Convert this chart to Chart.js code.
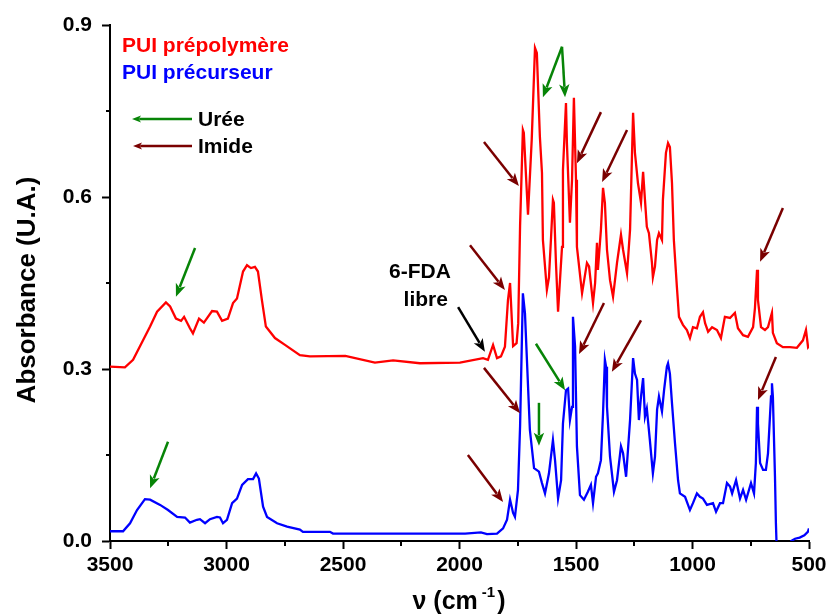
<!DOCTYPE html>
<html>
<head>
<meta charset="utf-8">
<script src="https://cdn.jsdelivr.net/npm/chart.js@4.4.0/dist/chart.umd.min.js"></script>
<style>
  body { margin: 0; background: #fff; }
  #wrap { width: 826px; height: 615px; }
</style>
</head>
<body>
<div id="wrap"><canvas id="myChart" width="826" height="615"></canvas></div>
<script>
// wavenumbers (cm-1) and absorbance for PUI prépolymère (red)
var wnRed = [
  3500,3436,3401,3328,3298,3260,3242,3217,3195,3182,
  3157,3144,3118,3097,3062,3041,3019,2994,2972,2955,
  2929,2912,2895,2878,2865,2848,2831,2792,2749,2685,
  2642,2490,2363,2285,2170,1998,1899,1878,1856,1839,
  1822,1805,1792,1783,1770,1755,1748,1740,1728,1724,
  1706,1690,1676,1668,1655,1646,1642,1625,1616,1607,
  1599,1595,1586,1577,1560,1556,1543,1539,1526,1517,
  1509,1500,1496,1474,1453,1444,1427,1418,1410,1406,
  1393,1384,1376,1367,1354,1341,1324,1307,1298,1281,
  1268,1255,1247,1234,1221,1212,1204,1196,1187,1174,
  1170,1161,1152,1144,1131,1127,1114,1105,1097,1088,
  1080,1067,1058,1041,1024,1011,998,981,968,955,
  946,933,916,895,878,861,839,818,805,783,
  762,740,732,723,719,706,689,676,659,655,
  638,612,582,552,526,513,504,500
];
var absRed = [
  .304,.303,.316,.374,.400,.416,.409,.388,.384,.391,
  .371,.362,.388,.381,.401,.400,.384,.388,.415,.423,
  .470,.481,.476,.478,.470,.420,.374,.354,.342,.324,
  .322,.323,.311,.315,.310,.311,.319,.316,.342,.319,
  .322,.339,.420,.450,.340,.345,.380,.550,.717,.712,
  .569,.700,.860,.851,.705,.642,.525,.438,.460,.530,
  .595,.590,.485,.400,.513,.647,.764,.694,.555,.630,
  .773,.630,.513,.432,.485,.479,.415,.450,.520,.473,
  .543,.616,.590,.508,.455,.426,.485,.534,.508,.467,
  .543,.747,.677,.624,.590,.644,.595,.548,.537,.485,
  .460,.479,.525,.537,.525,.595,.677,.694,.687,.624,
  .525,.443,.391,.377,.368,.354,.373,.371,.391,.399,
  .380,.365,.373,.368,.354,.391,.389,.398,.371,.359,
  .356,.373,.406,.473,.420,.373,.368,.373,.398,.363,
  .345,.338,.338,.337,.350,.368,.338,.340
];

// PUI précurseur (blue)
var wnBlue = [
  3500,3444,3414,3384,3350,3328,3285,3251,3212,3178,
  3157,3127,3114,3092,3071,3041,3028,3015,2998,2976,
  2955,2933,2908,2886,2873,2861,2843,2826,2783,2740,
  2685,2672,2556,2543,2170,1976,1908,1882,1839,1813,
  1796,1783,1770,1762,1749,1740,1728,1719,1710,1698,
  1680,1659,1646,1633,1616,1599,1590,1577,1564,1556,
  1543,1534,1526,1517,1513,1504,1496,1483,1466,1449,
  1436,1427,1414,1406,1393,1384,1376,1371,1367,1354,
  1337,1324,1307,1298,1285,1268,1255,1247,1238,1230,
  1221,1212,1204,1196,1183,1170,1161,1152,1144,1131,
  1122,1110,1105,1097,1088,1075,1062,1054,1032,1011,
  998,981,968,955,938,912,899,882,869,852,
  839,830,813,796,783,770,749,736,728,723,
  719,710,697,685,676,663,659,655,646,642,
  635,620,600,580,576,560,540,520,505,500
];
var absBlue = [
  .017,.017,.031,.054,.073,.072,.063,.054,.042,.041,
  .032,.037,.038,.031,.038,.042,.041,.031,.037,.066,
  .074,.098,.108,.108,.118,.109,.060,.042,.031,.025,
  .020,.016,.016,.013,.013,.013,.015,.012,.013,.022,
  .037,.072,.049,.042,.089,.200,.432,.397,.310,.194,
  .127,.121,.101,.083,.118,.176,.141,.074,.106,.205,
  .263,.266,.211,.234,.391,.339,.165,.080,.072,.086,
  .098,.066,.112,.118,.141,.223,.316,.304,.234,.147,
  .086,.106,.165,.153,.112,.211,.319,.292,.281,.211,
  .252,.284,.217,.231,.176,.118,.147,.229,.252,.226,
  .263,.304,.310,.292,.240,.170,.106,.083,.077,.054,
  .066,.083,.077,.074,.063,.066,.051,.066,.066,.101,
  .095,.083,.106,.074,.089,.072,.101,.083,.136,.234,
  .205,.136,.124,.124,.153,.252,.275,.252,.112,.031,
  -.06,-.08,-.08,-.03,.000,.004,.006,.010,.016,.022
];

var seriesNames = ["PUI prépolymère", "PUI précurseur"];
var xTickLabels = [3500, 3000, 2500, 2000, 1500, 1000, 500];
var yTickLabels = [0.0, 0.3, 0.6, 0.9];

// arrows: [x1, y1, x2, y2] in data units (from tail to tip)
var GREEN = "#078407", DARKRED = "#7a0000";
var arrows = [
  { c: GREEN, p: [3135, .511, 3217, .426] },
  { c: GREEN, p: [3251, .173, 3328, .092] },
  { c: DARKRED, p: [1895, .696, 1745, .619] },
  { c: DARKRED, p: [1955, .516, 1805, .438] },
  { c: "#000", p: [2006, .408, 1891, .330] },
  { c: GREEN, p: [1560, .862, 1642, .774] },
  { c: GREEN, p: [1560, .862, 1547, .774] },
  { c: DARKRED, p: [1393, .748, 1496, .659] },
  { c: DARKRED, p: [1281, .717, 1388, .626] },
  { c: DARKRED, p: [612, .581, 710, .487] },
  { c: DARKRED, p: [1895, .302, 1740, .223] },
  { c: DARKRED, p: [1964, .150, 1813, .068] },
  { c: GREEN, p: [1672, .344, 1547, .263] },
  { c: GREEN, p: [1659, .241, 1659, .166] },
  { c: DARKRED, p: [1380, .415, 1487, .326] },
  { c: DARKRED, p: [1221, .385, 1346, .295] },
  { c: DARKRED, p: [642, .321, 719, .246] }
];

function toPoints(xs, ys) {
  var pts = [];
  for (var i = 0; i < xs.length; i++) pts.push({ x: xs[i], y: ys[i] });
  return pts;
}

var FONT = "'Liberation Sans', Arial, sans-serif";

function drawArrow(ctx, x1, y1, x2, y2, color, head, w) {
  var a = Math.atan2(y2 - y1, x2 - x1);
  ctx.save();
  ctx.strokeStyle = color;
  ctx.fillStyle = color;
  ctx.lineWidth = w;
  ctx.beginPath();
  ctx.moveTo(x1, y1);
  ctx.lineTo(x2 - Math.cos(a) * head * 0.8, y2 - Math.sin(a) * head * 0.8);
  ctx.stroke();
  ctx.beginPath();
  ctx.moveTo(x2, y2);
  ctx.lineTo(x2 - Math.cos(a) * head + Math.sin(a) * head * 0.4, y2 - Math.sin(a) * head - Math.cos(a) * head * 0.4);
  ctx.lineTo(x2 - Math.cos(a) * head * 0.75, y2 - Math.sin(a) * head * 0.75);
  ctx.lineTo(x2 - Math.cos(a) * head - Math.sin(a) * head * 0.4, y2 - Math.sin(a) * head + Math.cos(a) * head * 0.4);
  ctx.closePath();
  ctx.fill();
  ctx.restore();
}

// minor ticks, titles, texts and arrows
var extras = {
  id: "extras",
  afterDraw: function (chart) {
    var ctx = chart.ctx, xs = chart.scales.x, ys = chart.scales.y, ca = chart.chartArea;
    ctx.save();
    ctx.strokeStyle = "#000";
    ctx.lineWidth = 2;
    for (var v = 750; v < 3500; v += 500) {
      var px = Math.round(xs.getPixelForValue(v));
      ctx.beginPath(); ctx.moveTo(px, ca.bottom); ctx.lineTo(px, ca.bottom + 5); ctx.stroke();
    }
    [0.15, 0.45, 0.75].forEach(function (v) {
      var py = Math.round(ys.getPixelForValue(v));
      ctx.beginPath(); ctx.moveTo(ca.left, py); ctx.lineTo(ca.left - 4, py); ctx.stroke();
    });

    // y title
    ctx.fillStyle = "#000";
    ctx.font = "bold 26px " + FONT;
    ctx.textAlign = "center";
    ctx.textBaseline = "middle";
    ctx.translate(28, 290);
    ctx.rotate(-Math.PI / 2);
    ctx.fillText("Absorbance (U.A.)", 0, 0);
    ctx.setTransform(1, 0, 0, 1, 0, 0);

    // x title with superscript
    ctx.textBaseline = "alphabetic";
    ctx.textAlign = "left";
    ctx.font = "bold 25px " + FONT;
    var a = "\u03bd (cm", b = "-1", c = ")";
    var wa = ctx.measureText(a).width, wc = ctx.measureText(c).width;
    ctx.font = "bold 15px " + FONT;
    var wb = ctx.measureText(b).width;
    var x0 = 459 - (wa + wb + wc + 6) / 2, base = 609;
    ctx.font = "bold 25px " + FONT;
    ctx.fillText(a, x0, base);
    ctx.font = "bold 15px " + FONT;
    ctx.fillText(b, x0 + wa + 4, base - 12);
    ctx.font = "bold 25px " + FONT;
    ctx.fillText(c, x0 + wa + wb + 6, base);

    // legend texts
    ctx.textBaseline = "middle";
    ctx.font = "bold 21px " + FONT;
    ctx.fillStyle = "#ff0000";
    ctx.fillText(seriesNames[0], 122, 46);
    ctx.fillStyle = "#0000ff";
    ctx.fillText(seriesNames[1], 122, 73);
    ctx.fillStyle = "#000";
    ctx.fillText("Urée", 198, 120);
    ctx.fillText("Imide", 198, 147);
    drawArrow(ctx, 192, 119, 132, 119, GREEN, 9, 2.5);
    drawArrow(ctx, 192, 146, 133, 146, DARKRED, 9, 2.5);

    // 6-FDA libre
    ctx.textAlign = "center";
    ctx.fillText("6-FDA", xs.getPixelForValue(2170), ys.getPixelForValue(0.469));
    ctx.fillText("libre", xs.getPixelForValue(2145), ys.getPixelForValue(0.420));

    arrows.forEach(function (ar) {
      drawArrow(ctx, xs.getPixelForValue(ar.p[0]), ys.getPixelForValue(ar.p[1]),
        xs.getPixelForValue(ar.p[2]), ys.getPixelForValue(ar.p[3]), ar.c, 13, 2.5);
    });
    ctx.restore();
  }
};

var ctx = document.getElementById("myChart").getContext("2d");
var myChart = new Chart(ctx, {
  type: "line",
  data: {
    datasets: [
      {
        label: seriesNames[0],
        data: toPoints(wnRed, absRed),
        borderColor: "#ff0000",
        borderWidth: 2.3,
        pointRadius: 0,
        tension: 0,
      },
      {
        label: seriesNames[1],
        data: toPoints(wnBlue, absBlue),
        borderColor: "#0000ff",
        borderWidth: 2.3,
        pointRadius: 0,
        tension: 0,
      },
    ],
  },
  options: {
    responsive: false,
    animation: false,
    layout: { padding: { left: 0, top: 25, right: 17, bottom: 0 } },
    plugins: {
      legend: { display: false },
      tooltip: { enabled: false },
    },
    scales: {
      x: {
        type: "linear",
        reverse: true,
        min: 500,
        max: 3500,
        afterFit: function (s) { s.height = 74; s.paddingRight = 0; s.paddingLeft = 0; },
        afterBuildTicks: function (s) {
          s.ticks = xTickLabels.map(function (v) { return { value: v }; });
        },
        ticks: {
          color: "#000",
          font: { family: FONT, size: 21, weight: "bold" },
          padding: 4,
          maxRotation: 0,
          autoSkip: false,
          callback: function (v) { return String(v); },
        },
        grid: { drawOnChartArea: false, tickLength: 8, tickWidth: 2, tickColor: "#000" },
        border: { display: true, color: "#000", width: 2 },
      },
      y: {
        min: 0,
        max: 0.9,
        afterFit: function (s) { s.width = 110; },
        afterBuildTicks: function (s) {
          s.ticks = yTickLabels.map(function (v) { return { value: v }; });
        },
        ticks: {
          color: "#000",
          font: { family: FONT, size: 21, weight: "bold" },
          padding: 10,
          callback: function (v) { return v.toFixed(1); },
        },
        grid: { drawOnChartArea: false, tickLength: 8, tickWidth: 2, tickColor: "#000" },
        border: { display: true, color: "#000", width: 2 },
      },
    },
  },
  plugins: [extras],
});
</script>
</body>
</html>
